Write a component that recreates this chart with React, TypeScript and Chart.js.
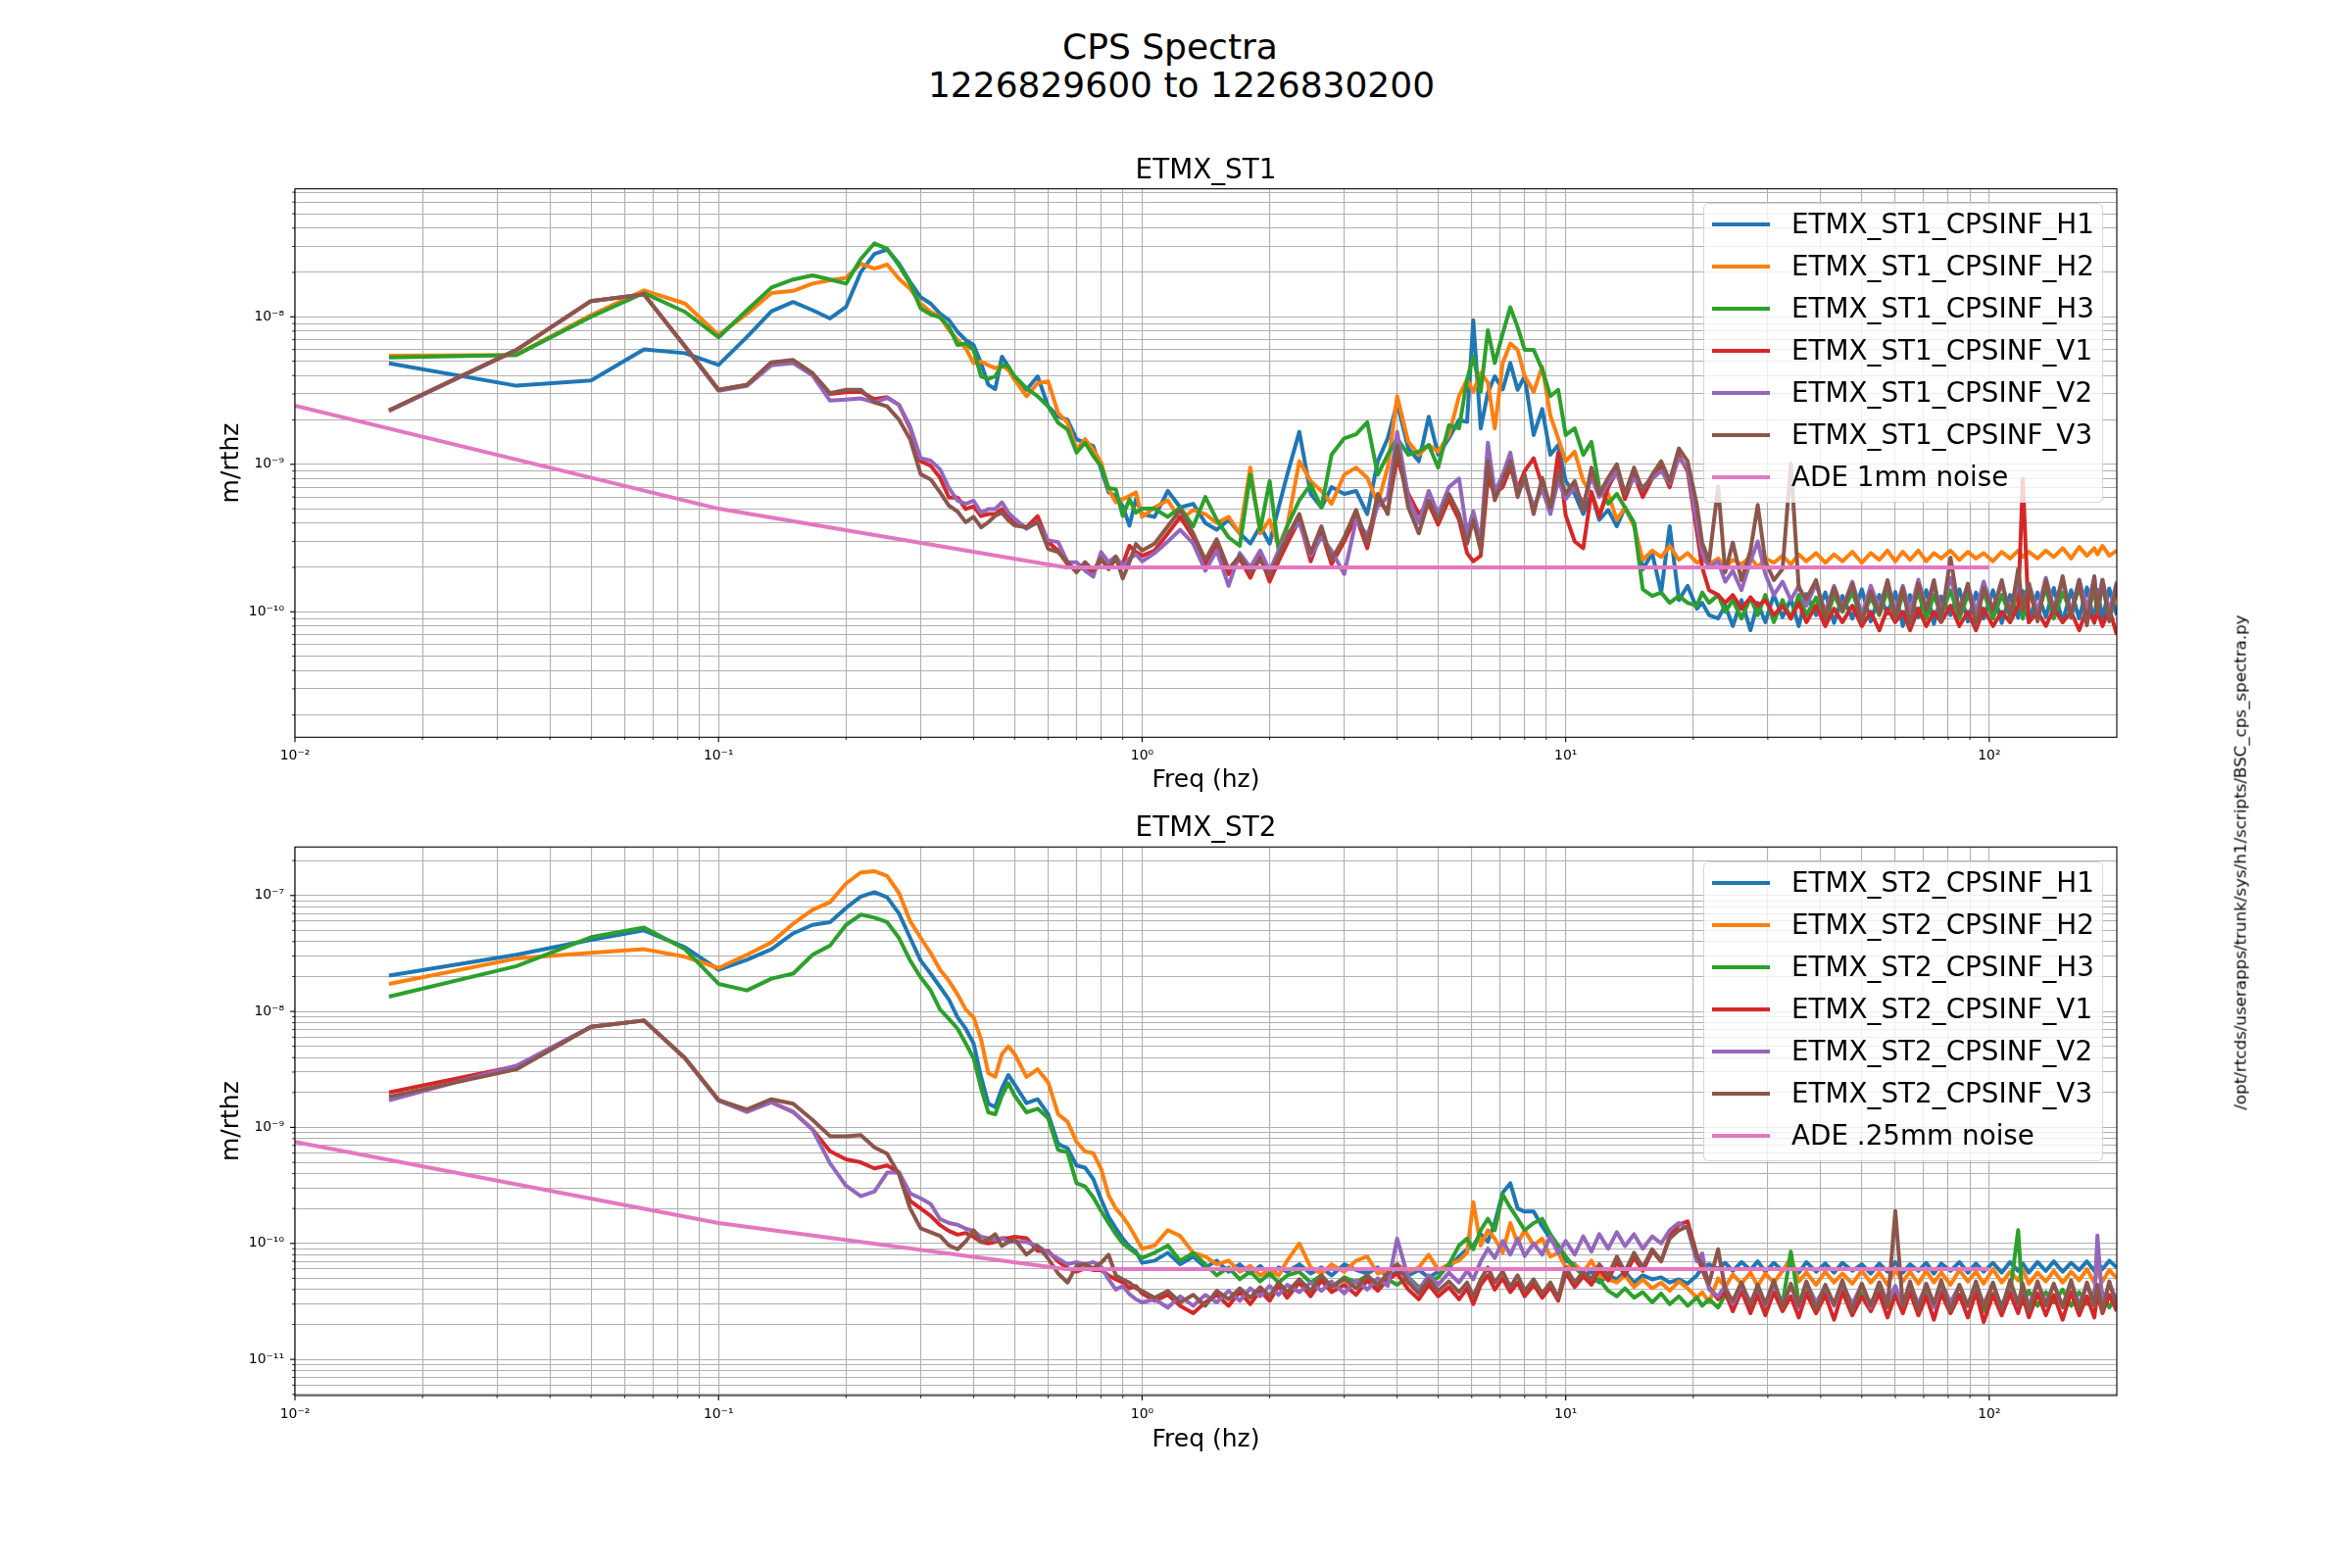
import React, { useEffect, useRef } from 'react';
import { Chart, registerables } from 'chart.js';

Chart.register(...registerables);

const FONT = "'DejaVu Sans', sans-serif";
const LINE_W = 4;

// ---------------- data ----------------
// frequency bins (Hz)
const FREQ = [
  0.01667, 0.03333, 0.05, 0.06667, 0.08333, 0.1, 0.11667, 0.13333, 0.15, 0.16667,
  0.18333, 0.2, 0.21667, 0.23333, 0.25, 0.26667, 0.28333, 0.3, 0.31667, 0.33333,
  0.35, 0.36667, 0.38333, 0.4, 0.41667, 0.43333, 0.45, 0.46667, 0.48333, 0.5,
  0.53333, 0.56667, 0.6, 0.63333, 0.66667, 0.7, 0.73333, 0.76667, 0.8, 0.83333,
  0.86667, 0.9, 0.93333, 0.96667, 1.0,
  1.07, 1.15, 1.23, 1.32, 1.41, 1.5, 1.6, 1.7, 1.8, 1.9,
  2.0, 2.1, 2.2, 2.35, 2.5, 2.65, 2.8, 3.0, 3.2, 3.4,
  3.6, 3.8, 4.0, 4.25, 4.5, 4.75, 5.0, 5.3, 5.6, 5.85,
  6.05, 6.3, 6.55, 6.8, 7.1, 7.4, 7.7, 8.0, 8.4, 8.8,
  9.2, 9.6, 10.0,
  10.5, 11, 11.5, 12, 12.6, 13.2, 13.8, 14.5, 15.2, 16,
  16.8, 17.6, 18.5, 19.4, 20.4, 21, 21.8, 22.9, 23.8, 24.8,
  26, 27.3, 28.4, 29.6, 31, 32.5, 34, 35.5, 37, 39,
  41, 43, 45, 47.5, 50, 52.5, 55, 57.5, 60, 62.5,
  65, 68, 71, 74, 77, 81, 85, 89, 93, 97,
  102, 107, 112, 117, 120, 124, 130, 136, 142, 149,
  156, 163, 170, 177, 180, 185, 192, 200,
];

// ETMX_ST1 values, in units of 1e-10 m/rthz
const ST1_UNIT = 1e-10;
const ST1_H1 = [
  48.4, 34.1, 37, 60.2, 56.7, 47.2, 73, 109, 126, 111,
  97.5, 117, 201, 267, 286, 229, 172, 136, 123, 105,
  95, 79, 69.7, 64.4, 48.5, 34.6, 32.4, 53.7, 46, 37.4,
  32, 39.5, 24.7, 21.1, 20, 14.8, 14, 13.3, 9.25, 6.45,
  6.1, 5.2, 3.84, 5.8, 4.6,
  4.4, 6.6, 5.1, 5.4, 4.0, 3.6, 4.2, 3.4, 2.9, 3.8,
  2.9, 5.1, 8.5, 16.6, 6.3, 5.1, 7, 6.3, 6.6, 4.6,
  10.5, 15, 26, 12.8, 10.5, 21, 11.6, 15, 20, 19.4,
  95, 17.5, 30.7, 39.5, 32.2, 48.6, 32, 39.5, 15.8, 23.7,
  11.6, 13.5, 7.7,
  6.3, 4.6, 6.3, 4.2, 4.9, 3.8, 5.1, 4.0, 1.94, 2.5,
  1.35, 3.8, 1.2, 1.5, 1.05, 1.15, 0.95, 0.9, 1.1, 0.8,
  1.2, 0.75, 1.15, 0.85, 1.3, 0.92, 1.22, 0.8, 1.32, 0.95,
  1.35, 0.84, 1.28, 0.9, 1.42, 0.86, 1.3, 0.97, 1.36, 0.8,
  1.3, 0.92, 1.4, 0.83, 1.27, 0.95, 1.42, 0.86, 1.35, 0.9,
  1.4, 0.84, 1.3, 0.91, 1.38, 0.85, 1.35, 0.92, 1.45, 0.85,
  1.4, 0.9, 1.46, 0.84, 1.41, 0.9, 1.44, 0.95,
];
const ST1_H2 = [
  54.5, 55.2, 102.6, 151, 123, 75.2, 105, 145, 150, 168,
  177, 184, 229, 212, 226, 181, 155, 123, 108, 100,
  81.3, 69.7, 61.2, 48.5, 49.7, 47, 44.9, 46.5, 43.7, 37.4,
  28.9, 35.5, 36.5, 22.3, 19.1, 12.6, 14.8, 12.6, 10.3, 6.78,
  5.52, 5.8, 6.1, 6.45, 4.4,
  5.1, 5.7, 4.2, 4.9, 4.6, 4.0, 4.4, 3.4, 9.5, 3.4,
  4.2, 2.8, 3.8, 10.5, 7.7, 6.6, 5.4, 8.5, 9.5, 8.1,
  5.4, 9.5, 29, 14.2, 11.6, 13.5, 12.2, 15.8, 29, 37.7,
  31, 41.7, 35.8, 17.5, 48.6, 66, 59.8, 39.7, 31, 46,
  21.4, 15, 10.5,
  12.2, 7.7, 6.3, 4.6, 6.3, 4.2, 5.1, 3.8, 2.25, 2.6,
  2.35, 2.8, 2.25, 2.5, 2.15, 2.25, 2.1, 2.3, 2.0, 2.25,
  2.1, 2.35, 2.0, 2.3, 2.15, 2.4, 2.1, 2.45, 2.2, 2.5,
  2.15, 2.45, 2.2, 2.55, 2.15, 2.5, 2.25, 2.6, 2.2, 2.55,
  2.25, 2.6, 2.2, 2.5, 2.3, 2.6, 2.25, 2.55, 2.3, 2.5,
  2.2, 2.55, 2.3, 2.6, 2.35, 2.55, 2.3, 2.6, 2.35, 2.7,
  2.3, 2.75, 2.4, 2.7, 2.45, 2.8, 2.4, 2.6,
];
const ST1_H3 = [
  53, 55.2, 100, 145, 108, 72.6, 111, 158, 179, 191,
  179, 168, 247, 315, 289, 223, 168, 114, 104, 99,
  85.5, 64.4, 66, 59.5, 39.5, 37.9, 39.5, 47.2, 46, 39.5,
  32.8, 28.9, 24.7, 19.1, 17.2, 12, 14, 11.4, 9.7, 6.9,
  6.78, 4.47, 5.8, 4.7, 5.0,
  5.0, 4.4, 5.1, 3.8, 6.0, 4.2, 3.2, 2.8, 8.5, 3.6,
  7.7, 2.6, 3.8, 5.7, 7.3, 5.1, 11.6, 15, 16, 19.3,
  8.5, 11.6, 15, 11.6, 12.2, 13.5, 9.5, 18.4, 17.5, 37.7,
  54, 31, 81, 48.6, 77, 116, 85, 59.8, 59.8, 44,
  29, 32, 15.8,
  17.5, 11.6, 14.2, 7, 5.4, 6.3, 5.1, 4.0, 1.42, 1.28,
  1.35, 1.15, 1.28, 1.15, 1.1, 1.35, 1.15, 1.3, 1.0, 1.2,
  0.9, 1.25, 0.95, 1.3, 0.85, 1.2, 0.9, 1.3, 0.95, 1.25,
  0.85, 1.3, 1.0, 1.35, 0.9, 1.25, 0.95, 1.4, 0.9, 1.3,
  1.0, 1.35, 0.9, 1.3, 0.95, 1.4, 0.9, 1.3, 1.0, 1.35,
  0.9, 1.3, 0.95, 1.4, 0.9, 1.35, 0.95, 1.45, 0.9, 1.35,
  1.0, 1.45, 0.95, 1.4, 1.0, 1.5, 0.95, 1.4,
];
const ST1_V1 = [
  23.2, 59.6, 128, 142, 63, 32, 34.6, 49.2, 49, 41,
  30, 30.8, 31, 27.7, 28.5, 25.3, 17.5, 10.5, 9.8, 8.1,
  5.95, 5.95, 4.97, 5.2, 4.45, 4.6, 4.6, 4.97, 4.45, 4.05,
  3.74, 4.45, 2.97, 2.6, 2.1, 1.94, 2.0, 1.85, 2.25, 2.0,
  2.25, 2.1, 2.8, 2.54, 2.4,
  2.6, 3.4, 4.4, 3.2, 2.1, 2.9, 1.8, 2.3, 1.7, 2.4,
  1.6, 2.2, 2.9, 4.2, 2.2, 3.5, 2.1, 3.0, 4.4, 2.7,
  5.6, 4.9, 11, 6.3, 4.6, 5.4, 3.9, 5.8, 4.2, 2.5,
  2.2, 2.4, 8.0, 6.3, 7.0, 9.5, 6.8, 9.0, 11, 7.2,
  4.8, 12, 4.5,
  3.0, 2.7, 6.5, 4.4, 7.0, 9.0, 5.8, 8.5, 6.0, 8.0,
  9.5, 7.0, 11.5, 9.0, 3.5, 2.0, 1.4, 1.3, 1.15, 1.3,
  1.05, 1.25, 1.1, 1.2, 0.95, 1.1, 0.9, 1.15, 0.85, 1.1,
  0.8, 1.05, 0.85, 1.1, 0.8, 1.0, 0.75, 1.05, 0.85, 1.0,
  0.75, 1.05, 0.8, 1.0, 0.85, 1.1, 0.8, 1.0, 0.75, 1.05,
  0.8, 1.0, 0.85, 1.1, 8.0, 0.85, 1.0, 0.8, 1.05, 0.85,
  1.0, 0.75, 1.05, 0.85, 1.0, 0.8, 1.05, 0.7,
];
const ST1_V2 = [
  23, 59.6, 128, 142, 63, 31.5, 34, 47, 48.5, 40,
  27, 27.5, 28, 26.3, 28.2, 25.3, 18.1, 11, 10.6, 9.25,
  6.9, 5.66, 5.4, 5.66, 4.7, 4.97, 4.97, 5.52, 4.7, 4.27,
  3.65, 4.05, 3.05, 2.97, 2.17, 2.17, 1.9, 1.73, 2.54, 2.17,
  2.37, 2.05, 2.3, 2.45, 2.2,
  2.5, 3.0, 3.6, 2.9, 1.9, 2.6, 1.5, 2.5, 2.0, 2.6,
  1.9, 2.6, 3.4, 4.0, 2.4, 3.2, 2.6, 1.8, 4.2, 3.3,
  5.2, 6.0, 16.6, 6.0, 4.0, 6.6, 4.6, 7.0, 8.0, 3.4,
  4.8, 3.0, 14, 6.5, 8.5, 12, 6.6, 7.5, 5.2, 6.8,
  4.6, 7.8, 5.8,
  7.0, 5.4, 8.2, 6.0, 7.5, 8.8, 6.5, 8.0, 7.0, 8.0,
  9.0, 7.5, 11, 9.5, 4.0, 2.5, 2.0, 2.2, 1.6, 1.9,
  1.4, 2.2, 3.0, 1.8, 1.3, 1.6, 1.2, 1.5, 1.1, 1.55,
  1.0, 1.5, 1.05, 1.6, 0.95, 1.5, 1.05, 1.6, 1.0, 1.5,
  1.0, 1.65, 1.05, 1.55, 1.0, 1.7, 1.05, 1.5, 1.0, 1.6,
  1.05, 1.55, 1.0, 1.6, 1.1, 1.55, 1.0, 1.7, 1.05, 1.6,
  1.0, 1.65, 1.05, 1.7, 1.1, 1.65, 1.0, 1.6,
];
const ST1_V3 = [
  23.2, 59.6, 128, 142, 63, 32, 34.6, 49.2, 51, 41.5,
  30.4, 32, 32, 26.3, 24.7, 20.1, 14.8, 8.57, 7.9, 6.45,
  5.24, 4.78, 4.05, 4.4, 3.74, 4.05, 4.48, 4.7, 4.17, 3.84,
  3.74, 4.05, 2.67, 2.54, 2.17, 1.85, 2.17, 1.9, 2.3, 1.94,
  2.37, 1.68, 2.17, 2.88, 2.6,
  2.9, 3.8, 4.9, 3.4, 2.25, 3.1, 1.94, 2.4, 1.85, 2.25,
  1.75, 2.4, 3.2, 4.6, 2.5, 3.8, 2.25, 3.2, 4.9, 2.9,
  6.3, 4.6, 13.5, 5.1, 3.4, 5.7, 4.2, 6.3, 4.6, 2.9,
  4.2, 2.6, 10.5, 5.7, 7.7, 10.5, 6.0, 8.5, 4.6, 8.1,
  5.1, 9, 6.3,
  7.7, 4.9, 9.5, 6.3, 8.1, 10, 6.3, 9.5, 6.6, 8.5,
  10.5, 7.7, 12.8, 10.5, 5.3, 2.95, 2.2, 7.1, 1.85, 2.95,
  1.64, 2.6, 5.3, 2.2, 1.64, 1.95, 10.1, 1.45, 1.22, 1.64,
  0.91, 1.45, 1.02, 1.55, 0.86, 1.37, 0.97, 1.64, 0.91, 1.45,
  0.81, 1.55, 1.02, 1.64, 0.86, 2.33, 0.97, 1.55, 0.81, 1.45,
  1.02, 1.64, 0.91, 1.95, 1.02, 1.55, 0.86, 1.64, 0.97, 1.74,
  0.91, 1.64, 0.81, 1.74, 0.97, 1.64, 0.86, 1.55,
];

// ETMX_ST2 values, in units of 1e-11 m/rthz
const ST2_UNIT = 1e-11;
const ST2_H1 = [
  2040, 3080, 4150, 5000, 3570, 2290, 2790, 3440, 4710, 5580,
  5890, 7820, 9770, 10700, 9650, 7000, 4310, 2750, 2120, 1630,
  1260, 890, 710, 530, 273, 160, 150, 218, 283, 235,
  162, 175, 130, 72, 66, 47, 45, 36, 24, 17,
  13.5, 11, 9.4, 8.5, 6.8,
  7.1, 8.3, 6.6, 7.7, 6.2, 7.1, 5.7, 6.6, 5.5, 6.4,
  5.3, 6.2, 5.7, 6.6, 5.5, 6.2, 5.3, 6.6, 5.9, 5.5,
  6.2, 5.1, 5.7, 5.3, 5.9, 5.1, 5.7, 6.2, 7.7, 8.9,
  9.6, 12, 10.4, 15, 27.4, 33, 20, 18.8, 18.8, 14,
  11, 8.9, 7.1,
  6.6, 5.3, 5.7, 4.6, 5.3, 4.9, 5.7, 4.6, 5.3, 4.9,
  5.1, 4.6, 4.9, 4.5, 5.3, 6.2, 6.6, 6.0, 6.8, 5.8,
  6.9, 5.9, 7.0, 5.7, 6.8, 5.8, 6.6, 5.6, 6.9, 5.7,
  6.7, 5.6, 6.8, 5.8, 6.6, 5.5, 6.7, 5.7, 6.9, 5.6,
  6.6, 5.8, 6.8, 5.5, 6.7, 5.8, 6.9, 5.6, 6.7, 5.7,
  6.8, 5.6, 6.9, 5.8, 6.7, 5.6, 6.9, 5.8, 7.0, 5.7,
  6.8, 5.9, 7.0, 5.8, 6.9, 6.0, 7.1, 6.2,
];
const ST2_H2 = [
  1730, 2860, 3200, 3440, 2960, 2370, 3080, 3940, 5710, 7530,
  8750, 12700, 15800, 16200, 14700, 10500, 6020, 4310, 3200, 2290,
  1830, 1400, 1040, 890, 575, 294, 273, 430, 500, 430,
  273, 317, 245, 130, 112, 75, 62, 60, 44, 26,
  20, 17, 14, 11.2, 9.0,
  9.6, 13, 11.6, 8.3, 7.7, 6.6, 7.1, 5.7, 6.4, 5.3,
  5.9, 5.3, 7.1, 10, 6.2, 5.5, 6.6, 5.7, 7.1, 7.7,
  5.5, 5.9, 6.6, 5.7, 6.2, 8.0, 5.9, 6.6, 7.1, 8.3,
  22.7, 9.6, 13, 11, 8.3, 15, 10, 13, 9.6, 11,
  7.7, 8.3, 6.2,
  6.6, 5.7, 7.1, 5.3, 4.9, 4.6, 5.3, 4.2, 4.9, 4.1,
  4.6, 3.9, 4.7, 4.1, 3.4, 3.8, 3.1, 5.0, 4.2, 5.4,
  4.5, 5.6, 4.3, 5.5, 4.6, 5.8, 7.5, 4.7, 5.6, 4.4,
  5.7, 4.6, 5.5, 4.5, 5.8, 4.6, 5.6, 4.4, 5.9, 4.7,
  5.7, 4.5, 5.8, 4.6, 5.6, 4.4, 5.9, 4.7, 5.7, 4.5,
  6.0, 4.6, 5.7, 4.8, 5.9, 4.5, 5.6, 4.7, 5.8, 4.6,
  5.7, 4.8, 6.0, 4.6, 5.8, 4.7, 5.9, 5.0,
];
const ST2_H3 = [
  1340, 2460, 4370, 5300, 3440, 1730, 1520, 1920, 2120, 3080,
  3700, 5580, 6840, 6440, 5890, 4310, 2750, 1970, 1520, 1040,
  860, 710, 530, 396, 218, 135, 130, 188, 240, 188,
  135, 145, 120, 64, 61, 33, 31, 25, 19, 15,
  12, 10, 9, 8.2, 7.5,
  8.3, 9.6, 7.1, 8.3, 6.6, 5.3, 6.2, 4.9, 5.7, 4.7,
  5.5, 4.6, 5.3, 5.7, 4.6, 5.3, 4.2, 5.1, 4.6, 5.3,
  4.1, 4.9, 4.4, 5.1, 4.2, 4.7, 5.1, 6.6, 9.6, 11,
  8.9, 13, 16.3, 13, 26.3, 20.3, 16.3, 13, 15, 16.3,
  12, 9.6, 7.7,
  6.2, 5.3, 4.6, 4.9, 3.9, 3.5, 4.1, 3.4, 3.8, 3.1,
  3.7, 3.0, 3.5, 2.9, 3.4, 2.9, 3.3, 2.8, 3.6, 2.9,
  3.8, 3.0, 3.9, 2.8, 3.7, 3.0, 8.5, 3.1, 3.9, 2.9,
  3.8, 3.0, 4.0, 2.8, 3.7, 3.1, 3.9, 2.9, 3.8, 3.0,
  4.0, 2.7, 3.8, 3.1, 3.9, 2.8, 3.6, 2.9, 3.9, 2.6,
  3.7, 3.0, 3.8, 13, 3.0, 3.9, 2.9, 3.8, 3.1, 4.0,
  2.9, 3.8, 3.0, 3.9, 3.1, 3.8, 2.8, 3.6,
];
const ST2_V1 = [
  200, 337, 736, 835, 396, 172, 140, 165, 136, 96,
  62.4, 53, 50, 44.3, 47, 41, 23.3, 20, 17.3, 14.4,
  12.8, 11.9, 12.3, 11.4, 10.3, 10, 10.3, 11.1, 11.1, 11.4,
  11.1, 8.6, 8.6, 7.0, 6.1, 5.7, 6.1, 5.9, 5.9, 5.3,
  4.9, 4.6, 4.1, 4.3, 3.7,
  3.2, 3.6, 2.9, 2.5, 3.1, 3.6, 2.9, 3.8, 3.0, 3.9,
  3.2, 4.3, 3.4, 4.6, 3.5, 4.8, 3.8, 4.4, 3.6, 4.8,
  3.9, 4.9, 5.5, 4.0, 3.3, 4.4, 3.5, 4.2, 3.3, 4.1,
  3.0, 4.4, 5.3, 4.0, 5.0, 3.8, 4.6, 3.5, 4.4, 3.4,
  4.2, 3.2, 5.6,
  4.2, 5.2, 4.4, 6.0, 4.8, 7.0, 5.3, 7.6, 5.8, 8.6,
  7.0, 11.5, 14.5, 15.5, 8.0, 6.0, 4.2, 3.3, 3.8, 2.6,
  3.9, 2.5, 3.6, 2.4, 3.8, 2.6, 3.5, 2.3, 3.7, 2.5,
  3.6, 2.2, 3.8, 2.4, 3.5, 2.6, 3.7, 2.3, 3.6, 2.5,
  3.8, 2.4, 3.5, 2.2, 3.7, 2.5, 3.6, 2.3, 3.8, 2.1,
  3.6, 2.4, 3.7, 2.5, 3.5, 2.3, 3.7, 2.4, 3.6, 2.2,
  3.8, 2.4, 3.5, 2.3, 3.7, 2.5, 3.6, 2.6,
];
const ST2_V2 = [
  171, 340, 736, 835, 396, 170, 136, 165, 136, 96,
  49, 31.4, 25.5, 28, 40.8, 41, 27, 24.5, 21.9, 16.2,
  15, 14.5, 13.4, 12.8, 11.4, 11.1, 10.7, 11.1, 10.3, 10.3,
  10.3, 9.5, 8.3, 7.4, 6.6, 6.9, 6.6, 6.9, 6.3, 4.9,
  4.0, 4.3, 3.66, 3.3, 3.1,
  3.3, 2.8, 3.5, 2.9, 3.6, 3.1, 3.9, 3.2, 4.1, 3.5,
  4.3, 3.6, 4.4, 3.8, 4.6, 3.9, 4.7, 3.7, 4.8, 4.0,
  5.0, 4.3, 11, 5.0, 4.0, 5.3, 4.4, 5.6, 4.6, 5.8,
  4.9, 7.0, 9.0, 7.5, 10.5, 8.0, 11, 7.8, 10, 8.0,
  11.5, 8.2, 10.5,
  8.0, 11.5, 8.5, 12, 9.0, 12.5, 9.5, 12, 9.0, 11.5,
  10, 13, 15, 13.5, 7.0, 8.2, 4.0, 3.5, 4.3, 3.0,
  4.4, 3.1, 4.2, 2.9, 4.5, 3.0, 4.3, 2.8, 4.6, 3.1,
  4.2, 2.9, 4.5, 3.0, 4.4, 2.8, 4.6, 3.1, 4.3, 2.9,
  4.5, 3.0, 4.4, 2.8, 4.6, 3.1, 4.3, 2.9, 4.5, 3.0,
  4.4, 2.8, 4.6, 3.0, 4.3, 2.9, 4.5, 3.1, 4.4, 2.9,
  4.6, 3.0, 4.3, 3.1, 11.7, 3.0, 4.5, 3.2,
];
const ST2_V3 = [
  184, 317, 736, 835, 396, 172, 143, 175, 160, 116,
  84, 84, 86, 67.4, 59.3, 39.3, 20, 13.5, 12.5, 11.6,
  9.6, 8.9, 10.4, 13, 10.3, 10.8, 12, 9.5, 10.3, 10.8,
  8.0, 9.5, 7.4, 5.5, 4.6, 6.4, 6.6, 6.1, 6.8, 8.0,
  5.3, 4.9, 4.6, 4.1, 3.9,
  3.4, 3.9, 3.1, 3.6, 2.9, 3.9, 3.3, 4.1, 3.4, 4.2,
  3.5, 4.6, 3.8, 4.9, 3.9, 5.3, 4.2, 4.9, 4.1, 5.3,
  4.4, 5.5, 6.6, 4.6, 3.7, 4.9, 3.9, 4.7, 3.8, 4.6,
  3.5, 4.9, 6.2, 4.6, 5.7, 4.2, 5.3, 3.9, 4.9, 3.7,
  4.6, 3.4, 6.2,
  4.6, 5.7, 4.9, 6.6, 5.3, 7.7, 5.7, 8.3, 6.2, 8.9,
  7.1, 11, 13, 14, 7.7, 6.6, 4.5, 8.9, 4.0, 3.2,
  4.6, 2.9, 4.4, 3.0, 4.8, 2.8, 4.5, 2.9, 4.7, 2.7,
  4.4, 3.0, 4.8, 2.6, 4.5, 2.9, 4.6, 2.8, 19, 2.9,
  4.7, 2.7, 4.5, 3.0, 4.8, 2.6, 4.4, 2.9, 4.7, 2.8,
  4.6, 2.7, 4.8, 3.0, 4.5, 2.6, 4.7, 2.9, 4.5, 2.8,
  4.8, 2.7, 4.6, 2.9, 4.4, 2.6, 4.7, 2.8,
];

// ADE reference noise curves
const ADE_FREQ = [0.01, 0.1, 0.66, 100];
const ADE_1MM = [2.5e-9, 5e-10, 2e-10, 2e-10];
const ADE_025MM = [7.5e-10, 1.5e-10, 6e-11, 6e-11];

const ST1_LABELS = [
  'ETMX_ST1_CPSINF_H1', 'ETMX_ST1_CPSINF_H2', 'ETMX_ST1_CPSINF_H3',
  'ETMX_ST1_CPSINF_V1', 'ETMX_ST1_CPSINF_V2', 'ETMX_ST1_CPSINF_V3', 'ADE 1mm noise',
];
const ST2_LABELS = [
  'ETMX_ST2_CPSINF_H1', 'ETMX_ST2_CPSINF_H2', 'ETMX_ST2_CPSINF_H3',
  'ETMX_ST2_CPSINF_V1', 'ETMX_ST2_CPSINF_V2', 'ETMX_ST2_CPSINF_V3', 'ADE .25mm noise',
];
const COLORS = ['#1f77b4', '#ff7f0e', '#2ca02c', '#d62728', '#9467bd', '#8c564b', '#e377c2'];

// tick labels
const X_MAJOR = [0.01, 0.1, 1, 10, 100];
const X_LABELS = ['10⁻²', '10⁻¹', '10⁰', '10¹', '10²'];
const ST1_Y_MAJOR = [1e-10, 1e-9, 1e-8];
const ST1_Y_LABELS = ['10⁻¹⁰', '10⁻⁹', '10⁻⁸'];
const ST2_Y_MAJOR = [1e-11, 1e-10, 1e-9, 1e-8, 1e-7];
const ST2_Y_LABELS = ['10⁻¹¹', '10⁻¹⁰', '10⁻⁹', '10⁻⁸', '10⁻⁷'];

// ---------------- helpers ----------------
function isPow10(v: number) {
  const l = Math.log10(v);
  return Math.abs(l - Math.round(l)) < 1e-6;
}

function logTicks(min: number, max: number) {
  const out: { value: number }[] = [];
  const e0 = Math.floor(Math.log10(min));
  const e1 = Math.ceil(Math.log10(max));
  for (let e = e0; e <= e1; e++) {
    for (let k = 1; k <= 9; k++) {
      const v = k * Math.pow(10, e);
      if (v >= min * 0.99999 && v < max * 0.9999) out.push({ value: v });
    }
  }
  return out;
}

function labelFor(value: number, majors: number[], labels: string[]) {
  for (let i = 0; i < majors.length; i++) {
    if (Math.abs(value / majors[i] - 1) < 1e-6) return labels[i];
  }
  return '';
}

const decorPlugin = {
  id: 'decor',
  afterDraw(chart: any) {
    const { ctx, chartArea: a, scales } = chart;
    ctx.save();
    ctx.strokeStyle = '#000';
    for (const t of scales.x.ticks) {
      const px = scales.x.getPixelForValue(t.value);
      const major = isPow10(t.value);
      ctx.lineWidth = major ? 1.1 : 0.85;
      ctx.beginPath();
      ctx.moveTo(px, a.bottom);
      ctx.lineTo(px, a.bottom + (major ? 4.9 : 2.8));
      ctx.stroke();
    }
    for (const t of scales.y.ticks) {
      const py = scales.y.getPixelForValue(t.value);
      const major = isPow10(t.value);
      ctx.lineWidth = major ? 1.1 : 0.85;
      ctx.beginPath();
      ctx.moveTo(a.left, py);
      ctx.lineTo(a.left - (major ? 4.9 : 2.8), py);
      ctx.stroke();
    }
    ctx.lineWidth = 1.1;
    ctx.strokeRect(a.left, a.top, a.right - a.left, a.bottom - a.top);
    ctx.restore();
  },
};

type PanelSpec = {
  title: string;
  canvasTop: number;
  canvasHeight: number;
  titlePadTop: number;
  titlePadBottom: number;
  xAxisHeight: number;
  xTitlePadBottom: number;
  yMin: number;
  yMax: number;
  yMajor: number[];
  yLabels: string[];
  unit: number;
  series: number[][];
  labels: string[];
  ade: number[];
};

function buildConfig(p: PanelSpec): any {
  const datasets: any[] = p.series.map((vals, i) => ({
    label: p.labels[i],
    data: FREQ.map((f, j) => ({ x: f, y: vals[j] * p.unit })),
    borderColor: COLORS[i],
    backgroundColor: COLORS[i],
    borderWidth: LINE_W,
    pointRadius: 0,
    fill: false,
    tension: 0,
    borderJoinStyle: 'round',
    order: 6 - i,
  }));
  datasets.push({
    label: p.labels[6],
    data: ADE_FREQ.map((f, j) => ({ x: f, y: p.ade[j] })),
    borderColor: COLORS[6],
    backgroundColor: COLORS[6],
    borderWidth: LINE_W,
    pointRadius: 0,
    fill: false,
    tension: 0,
    borderJoinStyle: 'round',
    order: 0,
  });
  const gridCfg = { color: '#b0b0b0', lineWidth: 1.1, drawTicks: false };
  return {
    type: 'line',
    data: { datasets },
    options: {
      animation: false,
      responsive: false,
      devicePixelRatio: 1,
      events: [],
      layout: { padding: { left: 0, right: 240, top: 0, bottom: 0 } },
      plugins: {
        legend: { display: false },
        tooltip: { enabled: false },
        title: {
          display: true,
          text: p.title,
          color: '#000',
          fullSize: false,
          font: { family: FONT, size: 27.8, weight: 'normal', lineHeight: 1.2 },
          padding: { top: p.titlePadTop, bottom: p.titlePadBottom },
        },
      },
      scales: {
        x: {
          type: 'logarithmic',
          min: 0.01,
          max: 200,
          afterBuildTicks: (s: any) => { s.ticks = logTicks(0.01, 200); },
          afterFit: (s: any) => { s.height = p.xAxisHeight; },
          grid: gridCfg,
          border: { display: false },
          ticks: {
            autoSkip: false,
            maxRotation: 0,
            minRotation: 0,
            padding: 11,
            color: '#000',
            font: { family: FONT, size: 13.9 },
            callback: (v: any) => labelFor(Number(v), X_MAJOR, X_LABELS),
          },
          title: {
            display: true,
            text: 'Freq (hz)',
            color: '#000',
            font: { family: FONT, size: 25, lineHeight: 1.2 },
            padding: { top: 0, bottom: p.xTitlePadBottom },
          },
        },
        y: {
          type: 'logarithmic',
          min: p.yMin,
          max: p.yMax,
          afterBuildTicks: (s: any) => { s.ticks = logTicks(p.yMin, p.yMax); },
          afterFit: (s: any) => { s.width = 301; },
          grid: gridCfg,
          border: { display: false },
          ticks: {
            autoSkip: false,
            padding: 11,
            color: '#000',
            font: { family: FONT, size: 13.9 },
            callback: (v: any) => labelFor(Number(v), p.yMajor, p.yLabels),
          },
          title: {
            display: true,
            text: 'm/rthz',
            color: '#000',
            font: { family: FONT, size: 25, lineHeight: 1.2 },
            padding: { top: 221, bottom: 0 },
          },
        },
      },
    },
    plugins: [decorPlugin],
  };
}

const PANELS: PanelSpec[] = [
  {
    title: 'ETMX_ST1',
    canvasTop: 120,
    canvasHeight: 720,
    titlePadTop: 37.7,
    titlePadBottom: 1.6,
    xAxisHeight: 87.7,
    xTitlePadBottom: 28.6,
    yMin: 1.41e-11,
    yMax: 7.38e-8,
    yMajor: ST1_Y_MAJOR,
    yLabels: ST1_Y_LABELS,
    unit: ST1_UNIT,
    series: [ST1_H1, ST1_H2, ST1_H3, ST1_V1, ST1_V2, ST1_V3],
    labels: ST1_LABELS,
    ade: ADE_1MM,
  },
  {
    title: 'ETMX_ST2',
    canvasTop: 810,
    canvasHeight: 710,
    titlePadTop: 18.7,
    titlePadBottom: 2.2,
    xAxisHeight: 96,
    xTitlePadBottom: 35.6,
    yMin: 4.88e-12,
    yMax: 2.62e-7,
    yMajor: ST2_Y_MAJOR,
    yLabels: ST2_Y_LABELS,
    unit: ST2_UNIT,
    series: [ST2_H1, ST2_H2, ST2_H3, ST2_V1, ST2_V2, ST2_V3],
    labels: ST2_LABELS,
    ade: ADE_025MM,
  },
];

function Panel({ spec }: { spec: PanelSpec }) {
  const ref = useRef<HTMLCanvasElement | null>(null);
  useEffect(() => {
    if (!ref.current) return;
    const chart = new Chart(ref.current, buildConfig(spec));
    return () => chart.destroy();
  }, [spec]);
  return (
    <canvas
      ref={ref}
      width={2400}
      height={spec.canvasHeight}
      style={{ position: 'absolute', left: 0, top: spec.canvasTop, width: 2400, height: spec.canvasHeight }}
    />
  );
}

function Legend({ top, firstRow, labels }: { top: number; firstRow: number; labels: string[] }) {
  const rows = labels.map((lab, i) => {
    const cy = firstRow + 43.05 * i;
    return (
      <React.Fragment key={i}>
        <div style={{ position: 'absolute', left: 1747, top: cy - LINE_W / 2, width: 59, height: LINE_W, background: COLORS[i] }} />
        <div
          style={{
            position: 'absolute', left: 1828, top: cy - 13.9, height: 27.8, lineHeight: '27.8px',
            fontSize: 27.8, whiteSpace: 'nowrap', color: '#000',
          }}
        >
          {lab}
        </div>
      </React.Fragment>
    );
  });
  return (
    <>
      <div
        style={{
          position: 'absolute', left: 1738, top, width: 407.5, height: 306, boxSizing: 'border-box',
          border: '1.4px solid rgba(204,204,204,0.8)', borderRadius: 5.6, background: 'rgba(255,255,255,0.8)',
        }}
      />
      {rows}
    </>
  );
}

export default function App() {
  return (
    <div
      style={{
        position: 'absolute', left: 0, top: 0, width: 2400, height: 1600, background: '#fff',
        overflow: 'hidden', fontFamily: FONT, color: '#000',
      }}
    >
      <div style={{ position: 'absolute', left: 1194, top: 29.5, transform: 'translateX(-50%)', fontSize: 36, lineHeight: '36px', whiteSpace: 'nowrap' }}>
        CPS Spectra
      </div>
      <div style={{ position: 'absolute', left: 1205.5, top: 68.8, transform: 'translateX(-50%)', fontSize: 36, lineHeight: '36px', whiteSpace: 'nowrap' }}>
        1226829600 to 1226830200
      </div>
      {PANELS.map((p, i) => <Panel key={i} spec={p} />)}
      <Legend top={207} firstRow={228.6} labels={ST1_LABELS} />
      <Legend top={878.8} firstRow={900.6} labels={ST2_LABELS} />
      <div
        style={{
          position: 'absolute', left: 2286, top: 880, transform: 'translate(-50%, -50%) rotate(-90deg)',
          fontSize: 16.7, lineHeight: '16.7px', whiteSpace: 'nowrap',
        }}
      >
        /opt/rtcds/userapps/trunk/sys/h1/scripts/BSC_cps_spectra.py
      </div>
    </div>
  );
}
